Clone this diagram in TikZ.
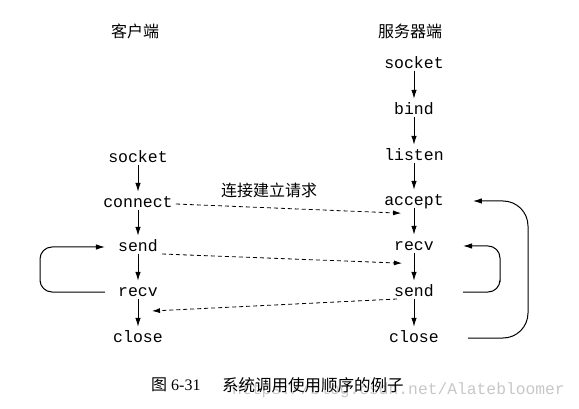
\documentclass[tikz,border=0pt]{standalone}
\usepackage{fontspec}
\setmainfont{Liberation Serif}
\setmonofont{Liberation Mono}
\newfontfamily\cjk{Noto Sans CJK SC}
\usetikzlibrary{arrows.meta}
\begin{document}
\begin{tikzpicture}[x=1pt,y=-1pt,
  fn/.style={inner sep=0pt,text height=9pt,text depth=0pt,font=\ttfamily\fontsize{16.5}{18}\selectfont},
  colhead/.style={inner sep=0pt,font=\cjk\fontsize{16}{18}\selectfont},
  flow/.style={line width=1pt,-{Latex[length=9pt,width=5.5pt]},shorten <=2pt,shorten >=6.5pt},
  msg/.style={line width=0.8pt,dash pattern=on 4pt off 3pt,-{Latex[length=8pt,width=5pt]}},
  backarrow/.style={line width=1pt,-{Latex[length=9pt,width=5.5pt]}}]
\useasboundingbox (0,0) rectangle (579,409);
% headers
\node[colhead] (hc) at (135,31) {客户端};
\node[colhead] (hs) at (410,31) {服务器端};
% client
\node[fn] (cs) at (138,158) {socket};
\node[fn] (cc) at (138,203) {connect};
\node[fn] (csd) at (138,247) {send};
\node[fn] (cr) at (138,292) {recv};
\node[fn] (ccl) at (138,338) {close};
% server
\node[fn] (ss) at (414,64) {socket};
\node[fn] (sb) at (414,110) {bind};
\node[fn] (sl) at (414,156) {listen};
\node[fn] (sa) at (414,201) {accept};
\node[fn] (sr) at (414,246) {recv};
\node[fn] (ssd) at (414,292) {send};
\node[fn] (scl) at (414,338) {close};
% vertical flow
\draw[flow] (cs.south) -- (cc.north);
\draw[flow] (cc.south) -- (csd.north);
\draw[flow] (csd.south) -- (cr.north);
\draw[flow] (cr.south) -- (ccl.north);
\draw[flow] (ss.south) -- (sb.north);
\draw[flow] (sb.south) -- (sl.north);
\draw[flow] (sl.south) -- (sa.north);
\draw[flow] (sa.south) -- (sr.north);
\draw[flow] (sr.south) -- (ssd.north);
\draw[flow] (ssd.south) -- (scl.north);
% messages
\node[colhead] (lbl) at (269,190) {连接建立请求};
\draw[msg] ([shift={(3,1)}]cc.east) -- ([shift={(17,7.5)}]sa.south west);
\draw[msg] ([shift={(4,7)}]csd.east) -- ([shift={(8,12.5)}]sr.south west);
\draw[msg] ([shift={(3,7)}]ssd.west) -- ([shift={(-6,19)}]cr.east);
% loops
\draw[backarrow,rounded corners=12pt] ([xshift=-13pt]cr.west) -| (40,270) |- ([xshift=-13pt]csd.west);
\draw[backarrow,rounded corners=12pt] ([xshift=29pt]ssd.east) -| (500,270) |- ([xshift=29pt]sr.east);
\draw[backarrow,rounded corners=25pt] ([xshift=29pt]scl.east) -| (528,270) |- ([xshift=29pt]sa.east);
% caption
\node[anchor=west,inner sep=0pt,text=black!22,font=\ttfamily\fontsize{16.3}{18}\selectfont] (wm) at (232,390) {https://blog.csdn.net/Alatebloomer};
\node[anchor=west,inner sep=0pt,font=\fontsize{16}{18}\selectfont] (fig) at (151,385) {{\cjk 图} 6-31};
\node[anchor=west,inner sep=0pt,font=\cjk\fontsize{16.5}{18}\selectfont] (cap) at (222,385) {系统调用使用顺序的例子};
\end{tikzpicture}
\end{document}
